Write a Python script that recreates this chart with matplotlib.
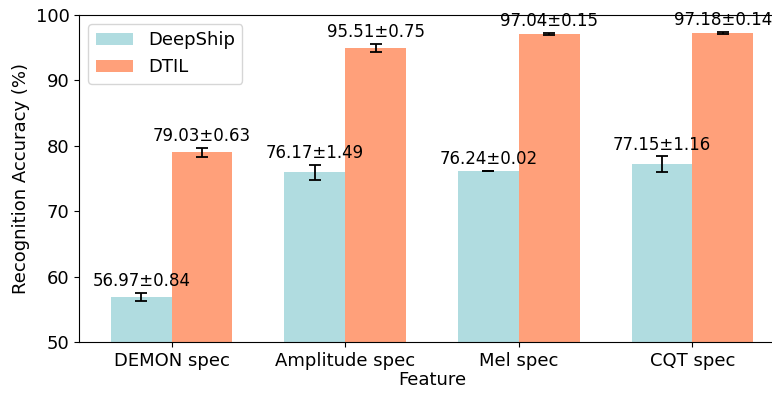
import matplotlib
matplotlib.use("Agg")
import matplotlib.pyplot as plt
import numpy as np

features = ["DEMON spec", "Amplitude spec", "Mel spec", "CQT spec"]
series_names = ["DeepShip", "DTIL"]
deepship_mean = [56.93, 75.96, 76.22, 77.20]
deepship_err = [0.64, 1.15, 0.02, 1.19]
dtil_mean = [79.00, 94.96, 97.05, 97.20]
dtil_err = [0.64, 0.66, 0.15, 0.14]
deepship_labels = ["56.97±0.84", "76.17±1.49", "76.24±0.02", "77.15±1.16"]
dtil_labels = ["79.03±0.63", "95.51±0.75", "97.04±0.15", "97.18±0.14"]
yticks = [50, 60, 70, 80, 90, 100]

fs = 13
fig = plt.figure(figsize=(7.72, 3.93), dpi=100)
ax = fig.add_axes([79.3 / 772, (393 - 342.3) / 393, (784.8 - 79.3) / 772, (342.3 - 15) / 393])

x = np.arange(len(features))
w = 0.35
c1 = "#b0dce0"
c2 = "#ffa07a"
ax.bar(x - w / 2, deepship_mean, w, yerr=deepship_err, capsize=4.5, color=c1,
       label=series_names[0], error_kw=dict(elinewidth=1.3, capthick=1.3, ecolor="black"))
ax.bar(x + w / 2, dtil_mean, w, yerr=dtil_err, capsize=4.5, color=c2,
       label=series_names[1], error_kw=dict(elinewidth=1.3, capthick=1.3, ecolor="black"))

lab_kw = dict(ha="center", va="bottom", fontsize=13.3, family="DejaVu Sans", stretch="condensed")
for i in range(len(features)):
    ax.text(x[i] - w / 2, deepship_mean[i] + deepship_err[i] + 0.45, deepship_labels[i], **lab_kw)
    ax.text(x[i] + w / 2, dtil_mean[i] + dtil_err[i] + 0.45, dtil_labels[i], **lab_kw)

ax.set_ylim(50, 100)
ax.set_xlim(-0.532, 3.532)
ax.set_yticks(yticks)
ax.set_xticks(x)
ax.set_xticklabels(features)
ax.tick_params(labelsize=fs)
ax.spines["right"].set_visible(False)
ax.set_xlabel("Feature", fontsize=fs, labelpad=1)
ax.set_ylabel("Recognition Accuracy (%)", fontsize=fs)
ax.legend(loc="upper left", fontsize=fs, handlelength=2.1)

fig.savefig("out.png", dpi=100)
